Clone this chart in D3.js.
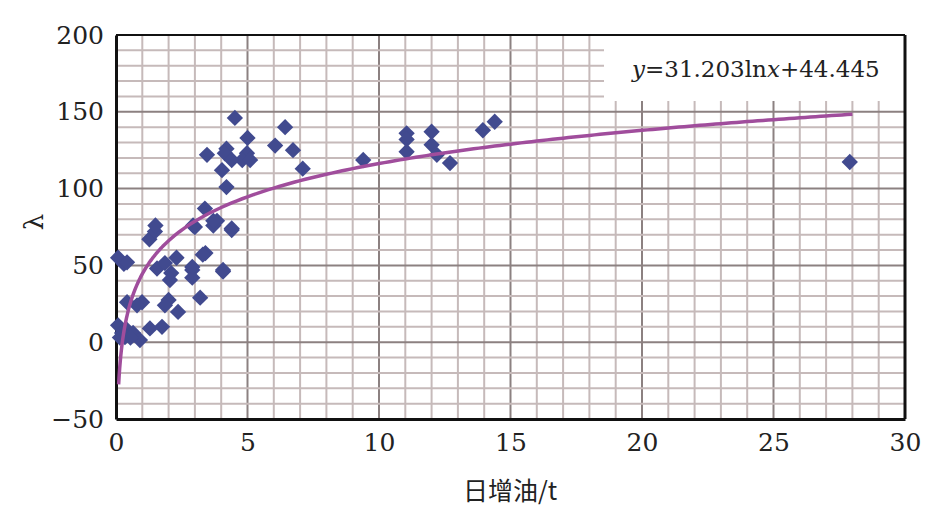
<!DOCTYPE html>
<html><head><meta charset="utf-8">
<script src="https://cdn.jsdelivr.net/npm/d3@7"></script>
<style>html,body{margin:0;padding:0;background:#fff;}
.serif{font-family:"DejaVu Serif","Liberation Serif",serif;}
</style>
</head><body>
<svg id="c" width="945" height="528"></svg>
<script>
const xValues = [0.08,0.3,0.42,1.27,1.48,1.5,3.0,3.7,3.84,4.4,1.56,1.86,2.3,2.1,2.05,2.9,2.9,3.4,4.07,
  0.42,0.99,0.8,2.0,1.86,2.36,3.2,0.08,0.42,0.65,0.34,0.91,1.29,1.75,0.23,0.15,0.55,
  4.52,3.46,4.2,4.14,5.0,4.98,4.8,5.1,4.4,4.03,4.2,6.05,6.43,6.73,7.1,3.38,2.93,3.7,4.4,3.3,4.07,2.9,
  9.4,11.05,11.05,11.05,12.0,12.0,12.2,12.7,13.95,14.4,27.9];
const yValues = [55,51,52,67,72,76,75,76,79,74,48,51.5,55,45,40.5,47,42,58,46,
  26,26,24,27.5,24,19.7,29,11,8,6,3.4,1.4,9,10,6,3,3,
  146,122,126,123,133,123,118.6,118.6,118.6,112,101,128,140,125,113,87,76,79,73,57,47,49,
  118.6,136,132,124,137,128.5,122,116.6,138,143.5,117.3];
const xTicks = [0,5,10,15,20,25,30];
const yTicks = [-50,0,50,100,150,200];
const fitA = 31.203, fitB = 44.445, fitFrom = 0.1, fitTo = 28;
const equation = ["y","=31.203ln","x","+44.445"];

const svg = d3.select("#c");
const L=116,R=905,T=35,B=419;
const x = d3.scaleLinear().domain([0,30]).range([L,R]);
const y = d3.scaleLinear().domain([-50,200]).range([B,T]);

const g = svg.append("g");
g.selectAll(".vx").data(d3.range(1,30)).join("line")
  .attr("x1",d=>x(d)).attr("x2",d=>x(d)).attr("y1",T).attr("y2",B)
  .attr("stroke",d=>d%5===0?"#8c8181":"#c6baba").attr("stroke-width",2);
g.selectAll(".hy").data(d3.range(-40,200,10)).join("line")
  .attr("y1",d=>y(d)).attr("y2",d=>y(d)).attr("x1",L).attr("x2",R)
  .attr("stroke",d=>d%50===0?"#8c8181":"#c6baba").attr("stroke-width",2);

svg.append("rect").attr("x",604).attr("y",T).attr("width",R-604).attr("height",66).attr("fill","#fff");

svg.append("line").attr("x1",L).attr("x2",R).attr("y1",T).attr("y2",T).attr("stroke","#111").attr("stroke-width",2);
svg.append("line").attr("x1",R).attr("x2",R).attr("y1",T).attr("y2",B).attr("stroke","#111").attr("stroke-width",3);

const xa = svg.append("g").attr("transform",`translate(0,${B})`)
  .call(d3.axisBottom(x).tickValues(xTicks).tickSize(0).tickPadding(14));
const ya = svg.append("g").attr("transform",`translate(${L},0)`)
  .call(d3.axisLeft(y).tickValues(yTicks).tickSize(0).tickPadding(12).tickFormat(d=>d<0?"\u2212"+Math.abs(d):d));
[xa,ya].forEach(a=>{a.attr("font-family",null).attr("font-size",null);
  a.select(".domain").attr("stroke","#111").attr("stroke-width",3);
  a.selectAll("text").attr("class","serif").style("font-size","25px").attr("fill","#222");});
xa.selectAll("text").attr("dy","0.71em");

svg.append("g").selectAll("path").data(xValues.map((v,i)=>[v,yValues[i]])).join("path")
  .attr("d",d3.symbol(d3.symbolDiamond2 || d3.symbolDiamond,170))
  .attr("transform",d=>`translate(${x(d[0])},${y(d[1])})`)
  .attr("fill","#414a8f");

const pts=[];
for(let v=fitFrom; v<=fitTo+1e-9; v+= (v<2?0.02:0.2)) pts.push([v, fitA*Math.log(v)+fitB]);
svg.append("path").datum(pts).attr("d",d3.line().x(d=>x(d[0])).y(d=>y(d[1])))
  .attr("fill","none").attr("stroke","#a04d9c").attr("stroke-width",3.5);

const eq = svg.append("text").attr("x",632).attr("y",77).attr("class","serif").style("font-size","23px").attr("fill","#222");
equation.forEach((s,i)=>eq.append("tspan").text(s).attr("font-style",i%2===0?"italic":"normal"));

svg.append("text").attr("x",510).attr("y",500).attr("text-anchor","middle")
  .attr("font-family","Noto Sans CJK SC, sans-serif").attr("font-size",25).attr("fill","#222").text("日增油/t");
svg.append("text").attr("transform","translate(43,222) rotate(-90)").attr("text-anchor","middle")
  .attr("class","serif").style("font-size","26px").attr("fill","#222").text("λ");
</script>
</body></html>
